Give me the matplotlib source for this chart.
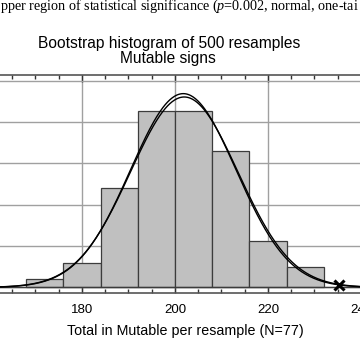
import numpy as np
import matplotlib
matplotlib.use("Agg")
from matplotlib import pyplot as plt
from matplotlib.ticker import MultipleLocator

# histogram of 500 bootstrap resamples (counts per bin of width 8)
bin_edges = [168, 176, 184, 192, 200, 208, 216, 224, 232]
counts = [6, 18, 72, 128, 128, 99, 34, 15]

# two fitted normal curves drawn over the bars (mean, sd)
fit_a = (201.8, 11.35)
fit_b = (202.0, 11.55)
n_resamples = 500

# observed value marked with an x
observed = 235.2

x_ticks = [160, 180, 200, 220, 240]
x_tick_labels = ["", "180", "200", "220", "240"]

plt.rcParams['font.family'] = ['Liberation Sans', 'DejaVu Sans']
plt.rcParams['mathtext.fontset'] = 'custom'
plt.rcParams['mathtext.it'] = 'Liberation Serif:italic'
plt.rcParams['mathtext.rm'] = 'Liberation Serif'

fig = plt.figure(figsize=(3.6, 3.6), dpi=100)
# axes is wider than the figure: the reference is a crop of a bigger chart
ax = fig.add_axes([-0.16, 0.186, 1.2917, 0.606])

widths = np.diff(bin_edges)
ax.bar(bin_edges[:-1], counts, width=widths, align="edge", color="#c0c0c0",
       edgecolor="#3c3c3c", linewidth=0.9, zorder=2)

xs = np.linspace(150, 250, 600)
bw = widths[0]
for mu, sd in (fit_a, fit_b):
    ys = n_resamples * bw / (sd * np.sqrt(2 * np.pi)) * np.exp(-0.5 * ((xs - mu) / sd) ** 2)
    ax.plot(xs, ys, color="black", linewidth=1.0, zorder=3)

mu, sd = fit_a
obs_y = n_resamples * bw / (sd * np.sqrt(2 * np.pi)) * np.exp(-0.5 * ((observed - mu) / sd) ** 2)
ax.plot([observed], [obs_y], marker="x", color="black", markersize=7, mew=2.2, zorder=4)

ax.axhline(0, color="#3c3c3c", linewidth=1.0, zorder=2.5)

ax.set_xlim(150, 250)
ax.set_ylim(-4.1, 154.2)
ax.set_xticks(x_ticks)
ax.set_xticklabels(x_tick_labels)
ax.xaxis.set_minor_locator(MultipleLocator(5))
ax.yaxis.set_major_locator(MultipleLocator(30))
ax.set_yticklabels([])
ax.tick_params(axis="x", which="both", direction="in", top=True, bottom=True,
               color="#333333", labelsize=9.5, pad=8)
ax.tick_params(axis="x", which="major", length=5, width=1)
ax.tick_params(axis="x", which="minor", length=3, width=1)
ax.tick_params(axis="y", length=0)
ax.grid(True, which="major", color="#a0a0a0", linewidth=1.0)
ax.set_axisbelow(True)
for side in ("top", "bottom"):
    ax.spines[side].set_color("#555555")
    ax.spines[side].set_linewidth(1.2)

fig.text(0.47, 0.868, "Bootstrap histogram of 500 resamples", ha="center", va="baseline", fontsize=11.2)
fig.text(0.467, 0.826, "Mutable signs", ha="center", va="baseline", fontsize=11.2)
fig.text(0.514, 0.07, "Total in Mutable per resample (N=77)", ha="center", va="baseline", fontsize=10.3)
fig.text(0.0, 0.972, "pper region of statistical significance ($p$=0.002, normal, one-tai",
         ha="left", va="baseline", fontsize=10.2, family="Liberation Serif")

fig.savefig("out.png", dpi=100)
